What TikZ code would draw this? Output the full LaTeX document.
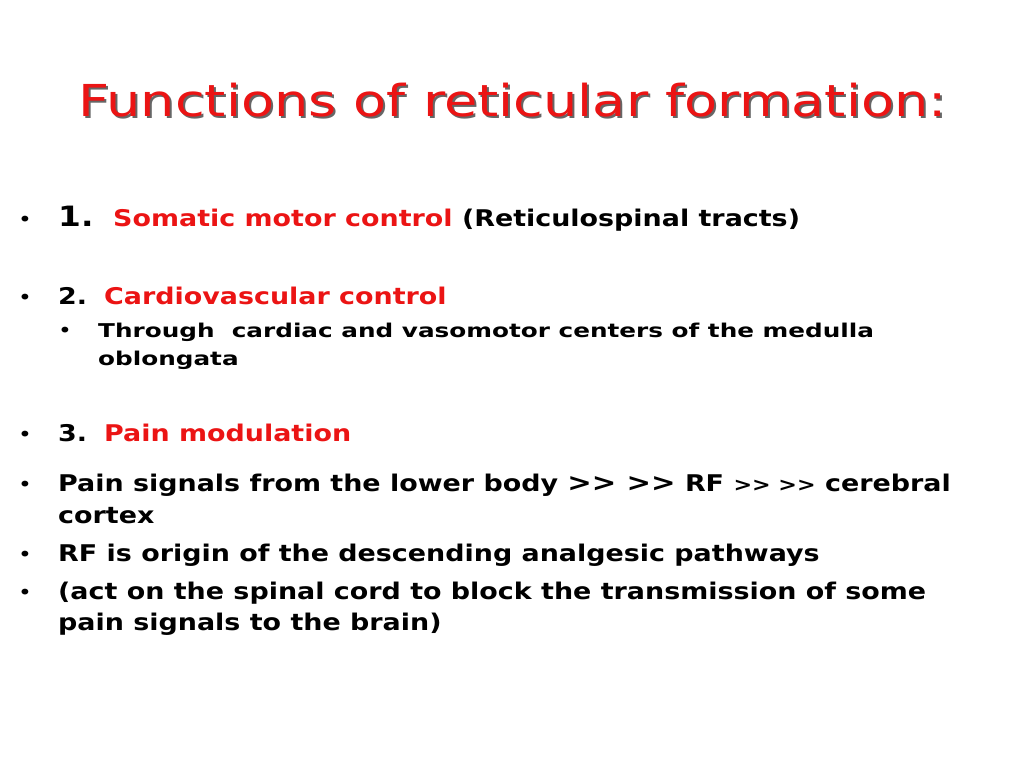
\documentclass[tikz,border=0pt]{standalone}
\usepackage{fontspec}
\setmainfont[FakeStretch=1.17]{DejaVu Sans}
\newfontfamily\subfont[FakeStretch=1.3]{DejaVu Sans}
\newfontfamily\titlefont[FakeStretch=1.23]{DejaVu Sans}
\definecolor{rr}{RGB}{235,20,20}
\begin{document}
\begin{tikzpicture}[x=1pt,y=-1pt,
  t/.style={anchor=base west,inner sep=0pt,font=\fontsize{23}{26}\selectfont\bfseries},
  s/.style={anchor=base west,inner sep=0pt,font=\subfont\fontsize{19}{22}\selectfont\bfseries},
  b/.style={anchor=base west,inner sep=0pt,font=\fontsize{20}{20}\selectfont}]
\useasboundingbox (0,0) rectangle (1024,768);
\node[anchor=base west,inner sep=0pt,font=\titlefont\fontsize{44}{50}\selectfont,text=black!60] (tsh) at (80,118) {Functions of reticular formation:};
\node[anchor=base west,inner sep=0pt,font=\titlefont\fontsize{44}{50}\selectfont,text=rr] (title) at (78,116) {Functions of reticular formation:};
% 1
\node[b] (b1) at (18,226) {•};
\node[anchor=base west,inner sep=0pt,font=\fontsize{28}{32}\selectfont\bfseries] (n1) at (58,226) {1.};
\node[t] (l1) at (113,226) {\textcolor{rr}{Somatic motor control} (Reticulospinal tracts)};
% 2
\node[b] (b2) at (18,304) {•};
\node[t] (n2) at (58,304) {2.};
\node[t,text=rr] (l2) at (104,304) {Cardiovascular control};
\node[b] (b2a) at (58,337) {•};
\node[s] (l2a) at (98,337) {Through\ \ cardiac and vasomotor centers of the medulla};
\node[s] (l2b) at (98,365) {oblongata};
% 3
\node[b] (b3) at (18,441) {•};
\node[t] (n3) at (58,441) {3.};
\node[t,text=rr] (l3) at (104,441) {Pain modulation};
\node[b] (b4) at (18,491) {•};
\node[t] (l4) at (58,491) {Pain signals from the lower body {\fontsize{25}{30}\selectfont{>}{>}\ {>}{>}} RF {\fontsize{19}{20}\selectfont{>}{>} {>}{>}} cerebral};
\node[t] (l4b) at (58,523) {cortex};
\node[b] (b5) at (18,561) {•};
\node[t] (l5) at (58,561) {RF is origin of the descending analgesic pathways};
\node[b] (b6) at (18,599) {•};
\node[t] (l6) at (58,599) {(act on the spinal cord to block the transmission of some};
\node[t] (l6b) at (58,630) {pain signals to the brain)};
\end{tikzpicture}
\end{document}
